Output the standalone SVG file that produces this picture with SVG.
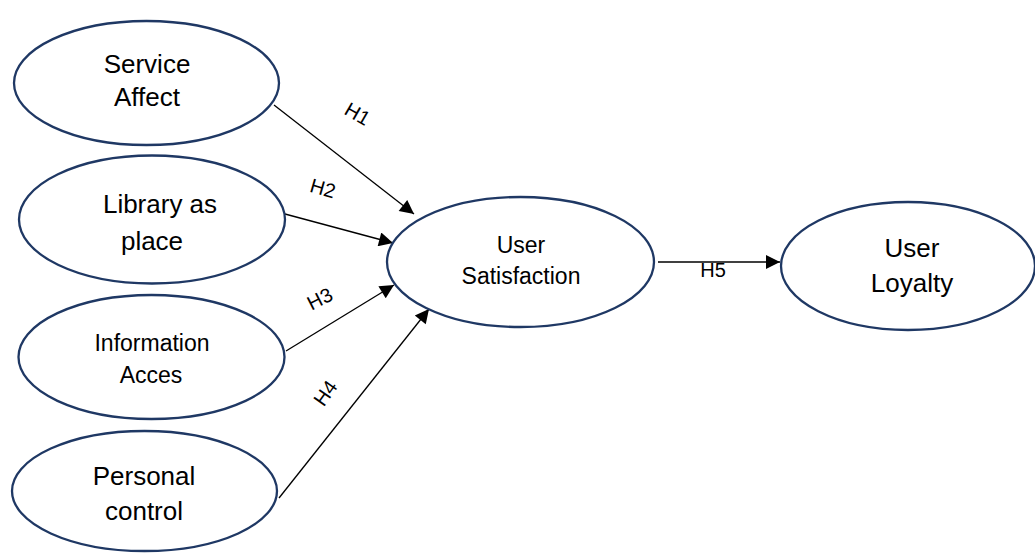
<svg xmlns="http://www.w3.org/2000/svg" width="1035" height="553" viewBox="0 0 1035 553">
<style>
.node ellipse{fill:#fff;stroke:#1f3864;stroke-width:2.3}
text{font-family:"Liberation Sans",Arial,sans-serif;fill:#000;text-anchor:middle}
.big{font-size:26px}
.mid{font-size:23px}
.lbl{font-size:20px}
.conn line{stroke:#000;stroke-width:1.3;fill:none}
</style>
<defs>
<marker id="ah" viewBox="0 0 10 10" refX="10" refY="5" markerWidth="17" markerHeight="14" markerUnits="userSpaceOnUse" orient="auto">
<path d="M0,0 L10,5 L0,10 Z" fill="#000"/>
</marker>
</defs>
<rect width="1035" height="553" fill="#fff"/>
<g id="connectors" class="conn">
<line x1="274" y1="105" x2="414" y2="214" marker-end="url(#ah)"/>
<line x1="285" y1="214" x2="393" y2="243" marker-end="url(#ah)"/>
<line x1="286" y1="351" x2="394" y2="285" marker-end="url(#ah)"/>
<line x1="279" y1="498" x2="429" y2="309" marker-end="url(#ah)"/>
<line x1="658" y1="262" x2="780" y2="262" marker-end="url(#ah)"/>
<text class="lbl" transform="translate(354,120) rotate(30)">H1</text>
<text class="lbl" transform="translate(321,195) rotate(16)">H2</text>
<text class="lbl" transform="translate(323,305) rotate(-27)">H3</text>
<text class="lbl" transform="translate(331,397) rotate(-55)">H4</text>
<text class="lbl" x="713" y="277">H5</text>
</g>
<g id="service-affect" class="node">
<ellipse cx="146.5" cy="83" rx="132.5" ry="62"/>
<text class="big" x="147" y="73">Service</text>
<text class="big" x="147" y="106">Affect</text>
</g>
<g id="library-as-place" class="node">
<ellipse cx="152" cy="219.5" rx="133" ry="64"/>
<text class="big" x="160" y="213">Library as</text>
<text class="big" x="152" y="250">place</text>
</g>
<g id="information-acces" class="node">
<ellipse cx="151.5" cy="357" rx="133" ry="62"/>
<text class="mid" x="152" y="351">Information</text>
<text class="mid" x="151" y="383">Acces</text>
</g>
<g id="personal-control" class="node">
<ellipse cx="144.5" cy="491" rx="132.5" ry="60"/>
<text class="big" x="144" y="485">Personal</text>
<text class="big" x="144" y="520">control</text>
</g>
<g id="user-satisfaction" class="node">
<ellipse cx="520.5" cy="262" rx="133.5" ry="65"/>
<text class="mid" x="521" y="253">User</text>
<text class="mid" x="521" y="284">Satisfaction</text>
</g>
<g id="user-loyalty" class="node">
<ellipse cx="908" cy="266" rx="127" ry="64"/>
<text class="big" x="912" y="257">User</text>
<text class="big" x="912" y="292">Loyalty</text>
</g>
</svg>
